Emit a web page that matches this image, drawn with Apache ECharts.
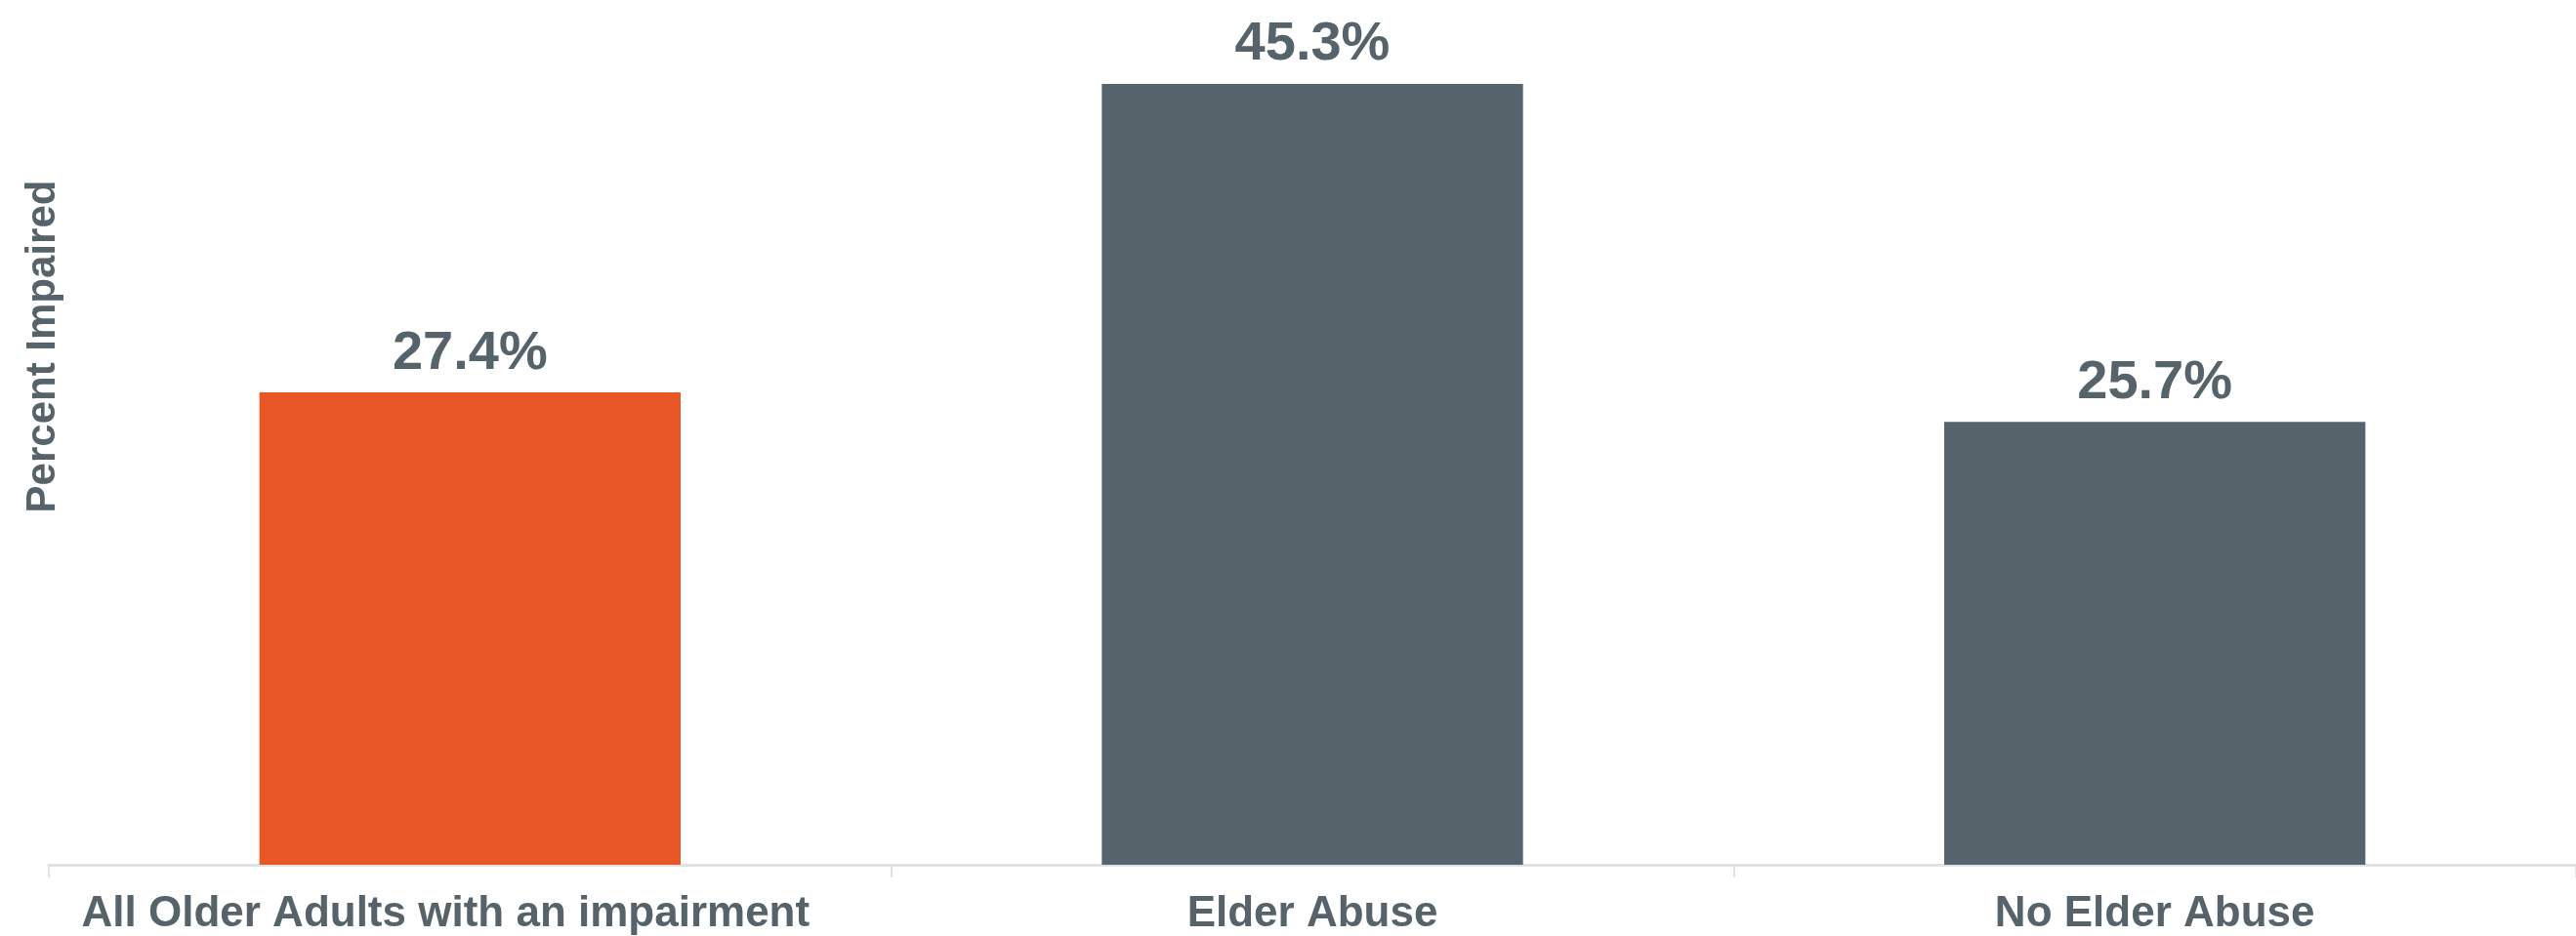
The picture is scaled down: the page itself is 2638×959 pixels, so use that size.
<!DOCTYPE html>
<html>
<head>
<meta charset="utf-8">
<script src="https://cdn.jsdelivr.net/npm/echarts@6/dist/echarts.min.js"></script>
<style>
html,body{margin:0;padding:0;background:#fff;overflow:hidden;}
#chart{width:2638px;height:959px;}
</style>
</head>
<body>
<div id="chart"></div>
<script>
const categories = ['All Older Adults with an impairment', 'Elder Abuse', 'No Elder Abuse'];
const values = [27.4, 45.3, 25.7];
const barColors = ['#E95627', '#56646B', '#56646B'];
const yAxisTitle = 'Percent Impaired';

const textColor = '#56636B';
const fontFam = '"Liberation Sans", Arial, Helvetica, sans-serif';

const chart = echarts.init(document.getElementById('chart'));
chart.setOption({
  animation: false,
  backgroundColor: '#ffffff',
  grid: { left: 50, right: -3, top: 3, bottom: 72, containLabel: false },
  xAxis: {
    type: 'category',
    data: categories.map((c, i) => i === 0 ? { value: c, textStyle: { padding: [0, 50, 0, 0] } } : c),
    axisLine: { show: true, lineStyle: { color: '#DFE3E6', width: 3 } },
    axisTick: { show: true, interval: 0, length: 13, lineStyle: { color: '#DFE3E6', width: 2 } },
    axisLabel: { interval: 0, color: textColor, fontSize: 44, fontWeight: 'bold', fontFamily: fontFam, margin: 29 }
  },
  yAxis: {
    type: 'value',
    min: 0, max: 50,
    show: true,
    axisLine: { show: false }, axisTick: { show: false },
    axisLabel: { show: false }, splitLine: { show: false }
  },
  series: [{
    type: 'bar',
    barWidth: '50%',
    data: values.map((v, i) => ({ value: v, itemStyle: { color: barColors[i] } })),
    label: {
      show: true, position: 'top', distance: 12,
      formatter: p => p.value.toFixed(1) + '%',
      color: textColor, fontSize: 56, fontWeight: 'bold', fontFamily: fontFam
    }
  }],
  graphic: [{
    type: 'text',
    x: 44, y: 355, rotation: Math.PI / 2,
    style: {
      text: yAxisTitle, fill: textColor, fontSize: 42, fontWeight: 'bold', fontFamily: fontFam,
      align: 'center', verticalAlign: 'middle'
    }
  }]
});
</script>
</body>
</html>
